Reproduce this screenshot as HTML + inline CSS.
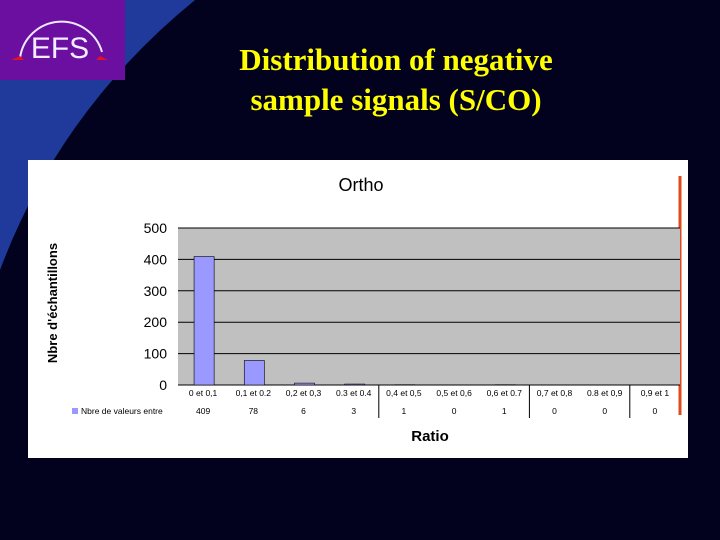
<!DOCTYPE html>
<html><head><meta charset="utf-8"><style>
html,body{margin:0;padding:0;width:720px;height:540px;overflow:hidden;background:#02021e}
svg{display:block}
</style></head><body>
<svg width="720" height="540" xmlns="http://www.w3.org/2000/svg">
<rect width="720" height="540" fill="#02021e"/>
<path d="M0,0 L195,0 Q60,110 0,270 Z" fill="#1f3a9a"/>
<rect x="0" y="0" width="125" height="80" fill="#6a0fa0"/>
<path d="M20,58 A42,42 0 0 1 102,52" fill="none" stroke="#f0e8ff" stroke-width="2"/>
<text x="60" y="58" font-family="Liberation Sans, sans-serif" font-size="30" fill="#f4ecff" text-anchor="middle">EFS</text>
<path d="M11,60 L20,56 L24,60 Z M96,60 L100,56 L108,60 Z" fill="#e0102a"/>
<text x="396" y="70" font-family="Liberation Serif, serif" font-weight="bold" font-size="31" fill="#ffff00" text-anchor="middle">Distribution of negative</text>
<text x="396" y="110" font-family="Liberation Serif, serif" font-weight="bold" font-size="31" fill="#ffff00" text-anchor="middle">sample signals (S/CO)</text>
<rect x="28" y="160" width="660" height="298" fill="#fff"/>
<text x="361" y="191" font-family="Liberation Sans, sans-serif" font-size="18" text-anchor="middle">Ortho</text>
<text transform="translate(57,303) rotate(-90)" font-family="Liberation Sans, sans-serif" font-weight="bold" font-size="13" text-anchor="middle">Nbre d'échantillons</text>
<text x="430" y="441" font-family="Liberation Sans, sans-serif" font-weight="bold" font-size="15" text-anchor="middle">Ratio</text>
<line x1="680" y1="176" x2="680" y2="415" stroke="#e04a1a" stroke-width="3"/>
<g id="chart"></g>
</svg>
<script>
const categories=["0 et 0,1","0,1 et 0.2","0,2 et 0,3","0.3 et 0.4","0,4 et 0,5","0,5 et 0,6","0,6 et 0.7","0,7 et 0,8","0.8 et 0,9","0,9 et 1"];
const values=[409,78,6,3,1,0,1,0,0,0];
const yTicks=[0,100,200,300,400,500];
const NS="http://www.w3.org/2000/svg";
const g=document.getElementById('chart');
const X0=178,X1=680,Y0=385,Y1=228,YMAX=500;
const bw=(X1-X0)/categories.length;
const y=v=>Y0-(v/YMAX)*(Y0-Y1);
const x=i=>X0+i*bw;
function mk(t,a){const e=document.createElementNS(NS,t);for(const k in a)e.setAttribute(k,a[k]);g.appendChild(e);return e;}
let r=mk('rect',{x:X0,y:Y1,width:X1-X0,height:Y0-Y1,fill:'#c0c0c0'});


yTicks.forEach(t=>{
 let l=mk('line',{x1:X0,x2:X1,y1:y(t),y2:y(t),stroke:'#000','stroke-width':1});
 
 
 let tx=mk('text',{x:167,y:y(t)+5,'font-family':'Liberation Sans, sans-serif','font-size':14,'text-anchor':'end'});
 tx.textContent=t;
 
 
});
categories.forEach((c,i)=>{
 let b=mk('rect',{x:x(i)+bw*0.32,y:y(values[i]),width:bw*0.4,height:Y0-y(values[i]),fill:'#9999ff',stroke:'#000','stroke-width':0.6});
 
 
 let t=mk('text',{x:x(i)+bw/2,y:396,'font-family':'Liberation Sans, sans-serif','font-size':8.5,'text-anchor':'middle'});
 t.textContent=c;
 
 
 let v=mk('text',{x:x(i)+bw/2,y:414,'font-family':'Liberation Sans, sans-serif','font-size':8.5,'text-anchor':'middle'});
 v.textContent=values[i];
 
 
});
[4,7,9].forEach(i=>{
 let l=mk('line',{x1:x(i),x2:x(i),y1:Y0,y2:418,stroke:'#000','stroke-width':1});
 
 
});
let lk=mk('rect',{x:72,y:408,width:6,height:6,fill:'#9999ff'});


let lt=mk('text',{x:81,y:414,'font-family':'Liberation Sans, sans-serif','font-size':8.5});
lt.textContent='Nbre de valeurs entre';


</script>
</body></html>
